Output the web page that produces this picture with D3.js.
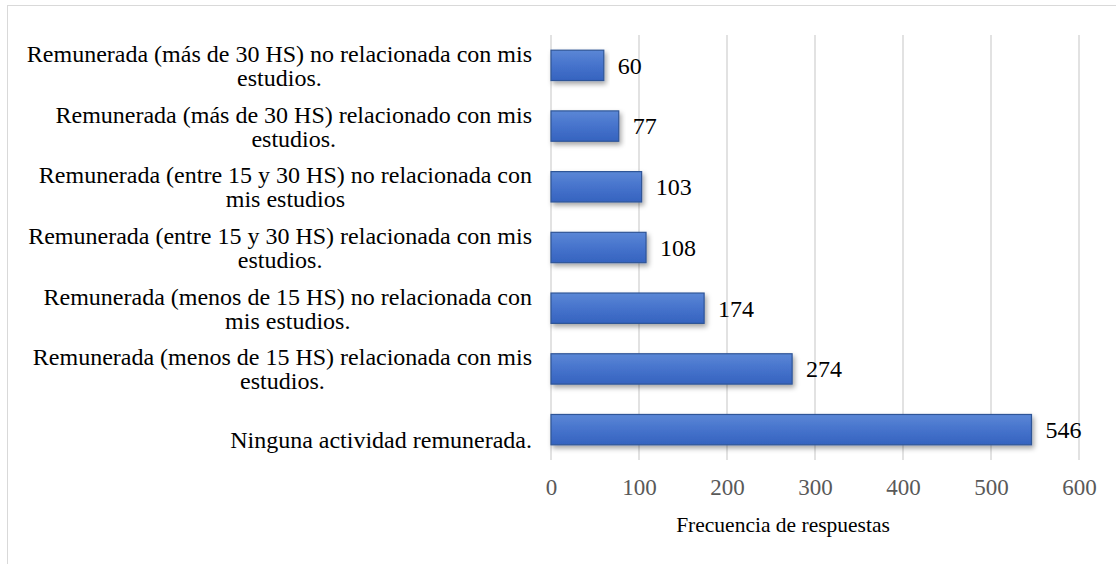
<!DOCTYPE html>
<html lang="es">
<head>
<meta charset="utf-8">
<title>Actividad remunerada</title>
<script src="https://cdn.jsdelivr.net/npm/d3@7"></script>
<style>
  html, body { margin: 0; padding: 0; background: #fff; }
  svg { display: block; }
  text { font-family: "Liberation Serif", "Times New Roman", serif; }
</style>
</head>
<body>
<svg id="chart"></svg>
<script>
// categories, top to bottom (each entry is the wrapped lines of the label)
const categories = [
  ["Remunerada (más de 30 HS) no relacionada con mis", "estudios."],
  ["Remunerada (más de 30 HS) relacionado con mis", "estudios."],
  ["Remunerada (entre 15 y 30 HS) no relacionada con", "mis estudios"],
  ["Remunerada (entre 15 y 30 HS) relacionada con mis", "estudios."],
  ["Remunerada (menos de 15 HS) no relacionada con", "mis estudios."],
  ["Remunerada (menos de 15 HS) relacionada con mis", "estudios."],
  ["Ninguna actividad remunerada."]
]
const values = [60, 77, 103, 108, 174, 274, 546]
const xTicks = [0, 100, 200, 300, 400, 500, 600]
const xTitle = "Frecuencia de respuestas"

const W = 1116, H = 564
const plot = { left: 551, right: 1079, top: 35, bottom: 460 }

const svg = d3.select('#chart').attr('width', W).attr('height', H)

// chart frame (only top and left show inside the picture)
svg.append('rect')
  .attr('x', 7.5).attr('y', 5.5)
  .attr('width', W + 20).attr('height', H + 20)
  .attr('fill', '#fff')
  .attr('stroke', '#d9d9d9')

const defs = svg.append('defs')
const grad = defs.append('linearGradient')
  .attr('id', 'barfill').attr('x1', 0).attr('y1', 0).attr('x2', 0).attr('y2', 1)
grad.append('stop').attr('offset', '0%').attr('stop-color', '#5b87d6')
grad.append('stop').attr('offset', '50%').attr('stop-color', '#4673cc')
grad.append('stop').attr('offset', '100%').attr('stop-color', '#3563bf')

const shadow = defs.append('filter').attr('id', 'shadow')
  .attr('x', '-10%').attr('y', '-30%').attr('width', '120%').attr('height', '180%')
shadow.append('feDropShadow')
  .attr('dx', 2).attr('dy', 3).attr('stdDeviation', 2.5)
  .attr('flood-color', '#000').attr('flood-opacity', 0.35)

const x = d3.scaleLinear().domain([0, 600]).range([plot.left, plot.right])
const y = d3.scaleBand()
  .domain(d3.range(categories.length))
  .range([plot.top, plot.bottom])
  .paddingInner(0.5).paddingOuter(0.25)

// gridlines
svg.append('g')
  .selectAll('line')
  .data(xTicks)
  .enter()
    .append('line')
    .attr('x1', d => x(d)).attr('x2', d => x(d))
    .attr('y1', plot.top).attr('y2', plot.bottom)
    .style('stroke', '#d9d9d9')
    .style('stroke-width', 1.5)

// x axis tick labels
const xAxis = svg.append('g')
  .attr('transform', `translate(0, ${plot.bottom})`)
  .call(d3.axisBottom(x).tickValues(xTicks).tickSize(0).tickPadding(19))
xAxis.select('.domain').remove()
xAxis.selectAll('text')
  .style('font-family', '"Liberation Serif", "Times New Roman", serif')
  .style('font-size', '23px')
  .style('fill', '#595959')

// bars
svg.append('g')
  .selectAll('rect')
  .data(values)
  .enter()
    .append('rect')
    .attr('x', x(0))
    .attr('y', (d, i) => y(i))
    .attr('width', d => x(d) - x(0))
    .attr('height', y.bandwidth())
    .attr('fill', 'url(#barfill)')
    .attr('stroke', '#2f5597')
    .attr('stroke-width', 1.2)
    .attr('filter', 'url(#shadow)')

// value labels
svg.append('g')
  .selectAll('text')
  .data(values)
  .enter()
    .append('text')
    .attr('x', d => x(d) + 14)
    .attr('y', (d, i) => y(i) + y.bandwidth() / 2)
    .attr('dy', '0.35em')
    .style('font-size', '24px')
    .style('fill', '#000')
    .text(d => d)

// category labels, right aligned block, last line sits below bar centre
const lab = svg.append('g')
categories.forEach((lines, i) => {
  const cy = y(i) + y.bandwidth() / 2
  const last = lines.length > 1 ? 20.5 : 18
  const t = lab.append('text')
    .attr('text-anchor', 'middle')
    .style('font-size', '24px')
    .style('fill', '#000')
  lines.forEach((ln, k) => {
    t.append('tspan')
      .attr('x', 0)
      .attr('y', cy + last - (lines.length - 1 - k) * 24)
      .text(ln)
  })
  // centre the block under its widest line, ending at x = 532
  const w = t.node().getBBox().width
  t.selectAll('tspan').attr('x', 532 - w / 2)
})

// axis title
svg.append('text')
  .attr('x', 783)
  .attr('y', 532)
  .attr('text-anchor', 'middle')
  .style('font-size', '21.5px')
  .style('fill', '#000')
  .text(xTitle)
</script>
</body>
</html>
